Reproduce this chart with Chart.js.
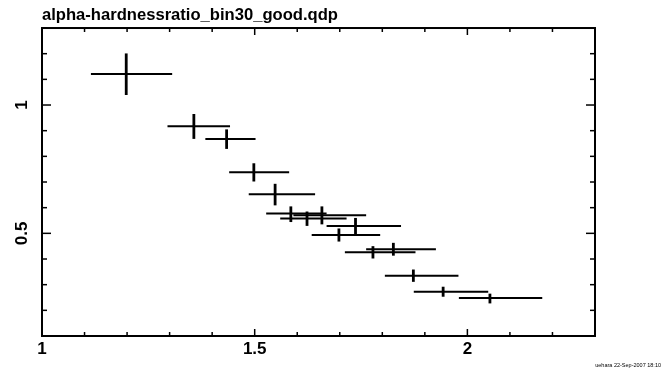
<!DOCTYPE html>
<html><head><meta charset="utf-8">
<script src="https://cdn.jsdelivr.net/npm/chart.js@4.4.1/dist/chart.umd.min.js"></script>
<style>html,body{margin:0;padding:0;background:#fff;}canvas{display:block;}</style>
</head><body>
<canvas id="c" width="671" height="378"></canvas>
<script>
// ---- data ----
const titleText = 'alpha-hardnessratio_bin30_good.qdp';
const footerText = 'uehara 22-Sep-2007 18:10';
const xCenter = [1.198, 1.357, 1.434, 1.498, 1.548, 1.585, 1.623, 1.658, 1.737, 1.698, 1.778, 1.826, 1.873, 1.943, 2.053];
const xLow    = [1.115, 1.295, 1.384, 1.440, 1.486, 1.527, 1.560, 1.591, 1.669, 1.634, 1.712, 1.762, 1.806, 1.874, 1.980];
const xHigh   = [1.306, 1.442, 1.502, 1.581, 1.642, 1.669, 1.716, 1.762, 1.844, 1.795, 1.878, 1.926, 1.979, 2.049, 2.176];
const yCenter = [1.121, 0.917, 0.868, 0.738, 0.652, 0.577, 0.558, 0.570, 0.529, 0.494, 0.426, 0.438, 0.335, 0.272, 0.248];
const yLow    = [1.039, 0.868, 0.829, 0.702, 0.609, 0.544, 0.529, 0.535, 0.495, 0.468, 0.402, 0.413, 0.311, 0.253, 0.227];
const yHigh   = [1.201, 0.965, 0.905, 0.773, 0.693, 0.605, 0.585, 0.605, 0.560, 0.519, 0.450, 0.463, 0.359, 0.292, 0.265];
const xTickLabels = ['1', '1.5', '2'];
const yTickLabels = ['0.5', '1'];

// ---- build datasets ----
const datasets = [];
xCenter.forEach((xc, i) => {
  datasets.push({ data: [{x: xLow[i], y: yCenter[i]}, {x: xHigh[i], y: yCenter[i]}], borderWidth: 2 });
  datasets.push({ data: [{x: xc, y: yLow[i]}, {x: xc, y: yHigh[i]}], borderWidth: 2.8 });
});
datasets.forEach(d => Object.assign(d, { showLine: true, pointRadius: 0, borderColor: '#000', fill: false, borderCapStyle: 'butt' }));

const isMajor = v => Math.abs(v * 2 - Math.round(v * 2)) < 1e-6;
const labelFor = (list) => (v) => {
  const hit = list.find(s => Math.abs(parseFloat(s) - v) < 1e-6);
  return hit === undefined ? '' : hit;
};

const framePlugin = {
  id: 'frame',
  beforeDraw(chart) {
    const ctx = chart.ctx; ctx.save(); ctx.fillStyle = '#fff';
    ctx.fillRect(0, 0, chart.width, chart.height); ctx.restore();
  },
  afterDatasetsDraw(chart) {
    const { ctx, chartArea: a, scales: { x, y } } = chart;
    ctx.save(); ctx.strokeStyle = '#000'; ctx.lineWidth = 1.5;
    const seg = (x1, y1, x2, y2) => { ctx.beginPath(); ctx.moveTo(x1, y1); ctx.lineTo(x2, y2); ctx.stroke(); };
    x.ticks.forEach(t => {
      const p = x.getPixelForValue(t.value); const L = isMajor(t.value) ? 7 : 4;
      seg(p, a.bottom, p, a.bottom - L); seg(p, a.top, p, a.top + L);
    });
    y.ticks.forEach(t => {
      const p = y.getPixelForValue(t.value); const L = isMajor(t.value) ? 9 : 5;
      seg(a.left, p, a.left + L, p); seg(a.right, p, a.right - L, p);
    });
    ctx.lineWidth = 2;
    ctx.strokeRect(a.left, a.top, a.right - a.left, a.bottom - a.top);
    ctx.restore();
  }
};

const tickFont = { family: 'Liberation Sans', size: 17, weight: 'bold' };

new Chart(document.getElementById('c'), {
  type: 'scatter',
  data: { datasets },
  options: {
    responsive: false, animation: false, devicePixelRatio: 1,
    layout: { padding: { left: 0, right: 10, top: 0, bottom: 0 } },
    plugins: {
      legend: { display: false }, tooltip: { enabled: false },
      title: { display: true, text: titleText, align: 'start', fullSize: false, color: '#000',
               font: { family: 'Liberation Sans', size: 16.6, weight: 'bold' }, padding: { top: 5.5, bottom: 2.6 } },
      subtitle: { display: true, text: footerText, position: 'bottom', align: 'end', color: '#000',
               font: { family: 'Liberation Sans', size: 5.5 }, padding: { top: 2.5, bottom: 8.9 } }
    },
    scales: {
      x: { type: 'linear', position: 'bottom', min: 1, max: 2.3,
           afterFit(s) { s.height = 24; },
           grid: { display: false, drawTicks: false }, border: { display: false },
           ticks: { stepSize: 0.1, autoSkip: false, maxRotation: 0, padding: 3, color: '#000', font: tickFont,
                    callback: labelFor(xTickLabels) } },
      y: { type: 'linear', position: 'left', min: 0.1, max: 1.3,
           afterFit(s) { s.width = 42; },
           grid: { display: false, drawTicks: false }, border: { display: false },
           ticks: { stepSize: 0.1, autoSkip: false, minRotation: 90, maxRotation: 90, crossAlign: 'center',
                    padding: 8, color: '#000', font: tickFont, callback: labelFor(yTickLabels) } },
      y2: { type: 'linear', position: 'right', min: 0.1, max: 1.3,
            afterFit(s) { s.width = 66; },
            grid: { display: false, drawTicks: false }, border: { display: false },
            ticks: { display: false } }
    }
  },
  plugins: [framePlugin]
});
</script>
</body></html>
